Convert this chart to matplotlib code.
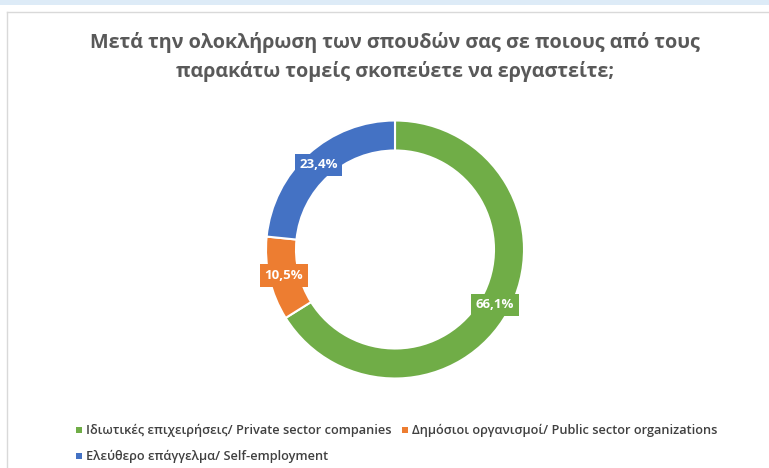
import matplotlib
matplotlib.use("Agg")
import matplotlib.pyplot as plt
from matplotlib.patches import Rectangle
import numpy as np

title = "Μετά την ολοκλήρωση των σπουδών σας σε ποιους από τους\nπαρακάτω τομείς σκοπεύετε να εργαστείτε;"
categories = ["Ιδιωτικές επιχειρήσεις/ Private sector companies",
              "Δημόσιοι οργανισμοί/ Public sector organizations",
              "Ελεύθερο επάγγελμα/ Self-employment"]
values = [66.1, 10.5, 23.4]
colors = ["#70AD47", "#ED7D31", "#4472C4"]

W, H = 769, 468
fig = plt.figure(figsize=(W / 100, H / 100), dpi=100)
fig.patch.set_facecolor("white")

def fx(px):
    return px / W

def fy(py):
    return 1 - py / H

# top strip & chart border (screenshot frame)
fig.add_artist(Rectangle((0, fy(5)), 1, 5 / H, transform=fig.transFigure,
                         facecolor="#DDEBF7", edgecolor="none"))
fig.add_artist(plt.Line2D([fx(7), 1], [fy(12), fy(12)], transform=fig.transFigure,
                          color="#D9D9D9", lw=1))
fig.add_artist(plt.Line2D([fx(7), fx(7)], [fy(12), 0], transform=fig.transFigure,
                          color="#D9D9D9", lw=1))

font = "Open Sans"
fig.text(fx(395), fy(57), title, ha="center", va="center", fontsize=14.2,
         fontweight="bold", color="#595959", family=font, linespacing=1.45)

cx, cy, R, T = 395, 249.5, 129, 30
ax = fig.add_axes([fx(cx - 140), fy(cy + 140), 280 / W, 280 / H])
ax.axis("off")

wedges, _ = ax.pie(values, colors=colors, startangle=90, counterclock=False,
                   radius=R, wedgeprops=dict(width=T, edgecolor="white", linewidth=1.5))
ax.set_xlim(-140, 140)
ax.set_ylim(-140, 140)
ax.set_aspect("equal")

for w, v, c in zip(wedges, values, colors):
    ang = np.deg2rad((w.theta1 + w.theta2) / 2)
    r = R - T / 2
    x, y = r * np.cos(ang), r * np.sin(ang)
    ax.text(x, y, f"{v:.1f}".replace(".", ",") + "%", ha="center", va="center",
            fontsize=9.5, fontweight="bold", color="white", family=font,
            bbox=dict(boxstyle="square,pad=0.35", facecolor=c, edgecolor="none"))

# legend
leg_pos = [(79, 430), (405, 430), (79, 456)]
for (lx, ly), lab, c in zip(leg_pos, categories, colors):
    fig.add_artist(Rectangle((fx(lx - 3), fy(ly + 3)), 6 / W, 6 / H,
                             transform=fig.transFigure, facecolor=c, edgecolor="none"))
    fig.text(fx(lx + 7), fy(ly), lab, ha="left", va="center", fontsize=9.2,
             color="#404040", family=font, fontweight="semibold")

fig.savefig("out.png", dpi=100, facecolor="white")
